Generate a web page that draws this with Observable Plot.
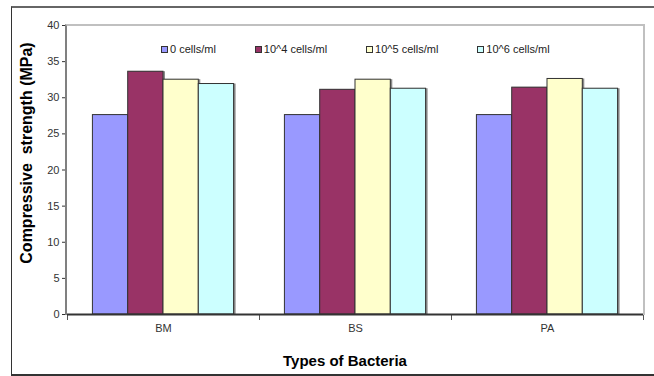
<!DOCTYPE html>
<html>
<head>
<meta charset="utf-8">
<script src="https://cdn.jsdelivr.net/npm/d3@7"></script>
<script src="https://cdn.jsdelivr.net/npm/@observablehq/plot@0.6"></script>
<style>
  html, body { margin: 0; padding: 0; background: #fff; }
  #wrap { position: relative; width: 654px; height: 376px; overflow: hidden; font-family: Arial, "Liberation Sans", sans-serif; }
  #wrap svg { position: absolute; left: 0; top: 0; }
  .outer { position: absolute; left: 11px; top: 6px; width: 700px; height: 366px; border-left: 1.5px solid #333; border-top: 2px solid #666; border-bottom: 2px solid #333; pointer-events: none; }
  .plotarea { position: absolute; left: 65px; top: 24px; width: 576px; height: 289px; border-top: 2px solid #c0c0c0; border-right: 2px solid #c0c0c0; border-left: 2px solid #808080; pointer-events: none; }
  .ytitle { position: absolute; left: 27px; top: 153px; transform: translate(-50%, -50%) rotate(-90deg); font-weight: bold; font-size: 16px; white-space: pre; color: #000; }
  .xtitle { position: absolute; left: 345px; top: 360px; transform: translate(-50%, -50%); font-weight: bold; font-size: 15px; white-space: pre; color: #000; }
  .legend { position: absolute; left: 161px; top: 43px; display: flex; gap: 39px; font-size: 11px; color: #222; }
  .legend .item { display: flex; align-items: center; gap: 2px; }
  .legend .sw { width: 7px; height: 7px; border: 1px solid #333; box-sizing: border-box; display: inline-block; }
</style>
</head>
<body>
<div id="wrap"></div>
<script>
const categories = ["BM", "BS", "PA"];
const series = ["0 cells/ml", "10^4 cells/ml", "10^5 cells/ml", "10^6 cells/ml"];
const values0 = [27.6, 27.6, 27.6];
const values4 = [33.6, 31.1, 31.4];
const values5 = [32.5, 32.5, 32.6];
const values6 = [31.9, 31.25, 31.25];
const colors = ["#9999FF", "#993366", "#FFFFCC", "#CCFFFF"];
const yTicks = [0, 5, 10, 15, 20, 25, 30, 35, 40];
const yTitle = "Compressive  strength (MPa)";
const xTitle = "Types of Bacteria";

const seriesValues = [values0, values4, values5, values6];
const data = [];
categories.forEach((c, i) => {
  series.forEach((s, j) => data.push({category: c, series: s, value: seriesValues[j][i]}));
});

const chart = Plot.plot({
  width: 654,
  height: 376,
  marginLeft: 66,
  marginRight: 11,
  marginTop: 25,
  marginBottom: 62,
  style: {fontFamily: "Arial, 'Liberation Sans', sans-serif", fontSize: "11px", color: "#333", background: "transparent"},
  fx: {domain: categories, padding: 0, axis: "bottom", tickSize: 0, tickPadding: 10, label: null},
  x: {domain: series, paddingInner: 0, paddingOuter: 0.72, round: false, axis: null},
  y: {domain: [0, 40], ticks: yTicks, tickSize: 5, tickPadding: 3, label: null, axis: "left"},
  color: {domain: series, range: colors},
  marks: [
    Plot.barY(data, {fx: "category", x: "series", y: "value", fill: "#8a8a8a", dx: 2, insetLeft: 0, insetRight: 0}),
    Plot.barY(data, {fx: "category", x: "series", y: "value", fill: "series", stroke: "#333", strokeWidth: 1, insetLeft: 0, insetRight: 0}),
    Plot.frame({anchor: "left", insetTop: 289, insetBottom: -5, stroke: "#555", strokeWidth: 1}),
    Plot.frame({anchor: "right", insetTop: 289, insetBottom: -5, stroke: "#555", strokeWidth: 1}),
    Plot.ruleY([0], {stroke: "#333", strokeWidth: 2})
  ]
});

const wrap = document.getElementById("wrap");
wrap.appendChild(chart);

const outer = document.createElement("div");
outer.className = "outer";
wrap.appendChild(outer);

const area = document.createElement("div");
area.className = "plotarea";
wrap.appendChild(area);

const yt = document.createElement("div");
yt.className = "ytitle";
yt.textContent = yTitle;
wrap.appendChild(yt);

const xt = document.createElement("div");
xt.className = "xtitle";
xt.textContent = xTitle;
wrap.appendChild(xt);

const legend = document.createElement("div");
legend.className = "legend";
series.forEach((s, j) => {
  const item = document.createElement("div");
  item.className = "item";
  const sw = document.createElement("span");
  sw.className = "sw";
  sw.style.background = colors[j];
  const t = document.createElement("span");
  t.textContent = s;
  item.appendChild(sw);
  item.appendChild(t);
  legend.appendChild(item);
});
wrap.appendChild(legend);
</script>
</body>
</html>
